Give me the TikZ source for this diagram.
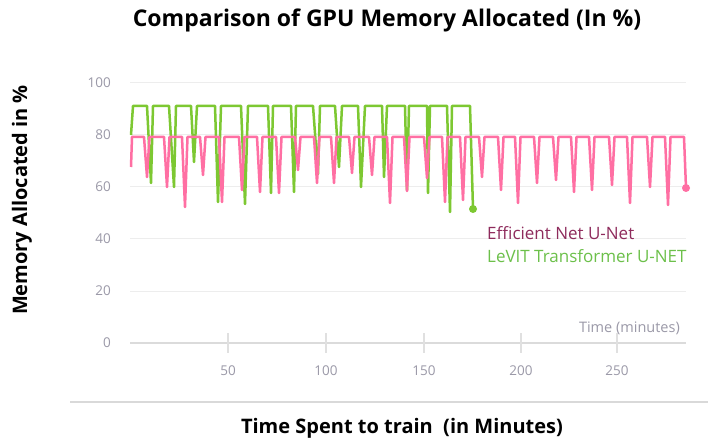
\documentclass[tikz,border=0pt]{standalone}
\usepackage{fontspec}
\setmainfont{Open Sans}
\begin{document}
\begin{tikzpicture}[x=1pt,y=-1pt,
  grid/.style={draw=black!7,line width=1pt},
  axisline/.style={draw=black!14,line width=2pt},
  tickmark/.style={draw=black!12,line width=1.2pt},
  ticklab/.style={text=tickgray,font=\fontsize{13.5}{16}\selectfont,inner sep=0pt},
  pinkline/.style={draw=pinkc,line width=2.5pt,line join=round},
  greenline/.style={draw=greenc,line width=2.5pt,line join=round},
  biglab/.style={font=\fontsize{20}{24}\selectfont\bfseries,text=black,inner sep=0pt},
  leglab/.style={font=\fontsize{17}{20}\selectfont,inner sep=0pt,anchor=west}]
\definecolor{pinkc}{HTML}{FF6FA3}
\definecolor{greenc}{HTML}{7DC832}
\definecolor{legpink}{HTML}{8E2B5C}
\definecolor{leggreen}{HTML}{6CC04A}
\definecolor{tickgray}{HTML}{9B99A8}
\useasboundingbox (0,0) rectangle (708,443);
\fill[white] (0,0) rectangle (708,443);
% title
\node[font=\fontsize{23}{27}\selectfont\bfseries,inner sep=0pt] (title) at (387,20) {Comparison of GPU Memory Allocated (In \%)};
% grid
\foreach \yy/\lab in {83/100,135/80,187/60,239/40,291/20}{
  \draw[grid] (130,\yy) -- (686,\yy);
  \node[ticklab,anchor=east] (yl\lab) at (111,\yy) {\lab};
}
\draw[axisline] (130,343) -- (686,343);
\node[ticklab,anchor=east] (yl0) at (111,343) {0};
\foreach \xx/\lab in {228/50,326/100,424/150,521/200,617/250}{
  \draw[tickmark] (\xx,333) -- (\xx,353);
  \node[ticklab] (xl\lab) at (\xx,371) {\lab};
}
\node[ticklab,anchor=east,font=\fontsize{14.5}{17}\selectfont] (tm) at (680,328) {Time (minutes)};
% green series
\coordinate (gs) at (131,135);
\coordinate (ge) at (473,209);
\draw[greenline] (gs) -- (133,106)
  \foreach \a/\b/\c/\d in {147/151/183/153,169/174/187/176,191/194/162/197,215/218/202/221,241/245/204/248,268/271/193/273,291/294/192/296,313/318/174/320,335/339/167/342,358/361/187/365,382/384/177/387,405/407/190/409,427/428/193/430,447/450/212/452}{
    -- (\a,106) -- (\b,\c) -- (\d,106)}
  -- (470,106) -- (ge);
\fill[greenc] (ge) circle (4);
% pink series
\coordinate (ps) at (131,167);
\coordinate (pe) at (686,188);
\draw[pinkline] (ps) -- (132,137)
  \foreach \b/\c in {147/177,167/187,185/207,203/175,222/202,242/190,260/192,279/193,298/170,317/183,334/183,352/173,372/175,390/203,407/191,427/178,445/202,463/200,482/177,501/190,518/203,537/183,556/180,574/192,592/190,612/185,630/203,650/187,668/205}{
    -- (\b-3,137) -- (\b,\c) -- (\b+2.5,137)}
  -- (684,137) -- (pe);
\fill[pinkc] (pe) circle (4);
% legend
\node[leglab,text=legpink] (leg1) at (487,233) {Efficient Net U-Net};
\node[leglab,text=leggreen] (leg2) at (487,256) {LeVIT Transformer U-NET};
% axis labels
\node[biglab,rotate=90] (ylab) at (22,200) {Memory Allocated in \%};
\draw[draw=black!15,line width=2pt] (70,402) -- (708,402);
\node[biglab] (xlab) at (402,428) {Time Spent to train\ \ (in Minutes)};
\end{tikzpicture}
\end{document}
